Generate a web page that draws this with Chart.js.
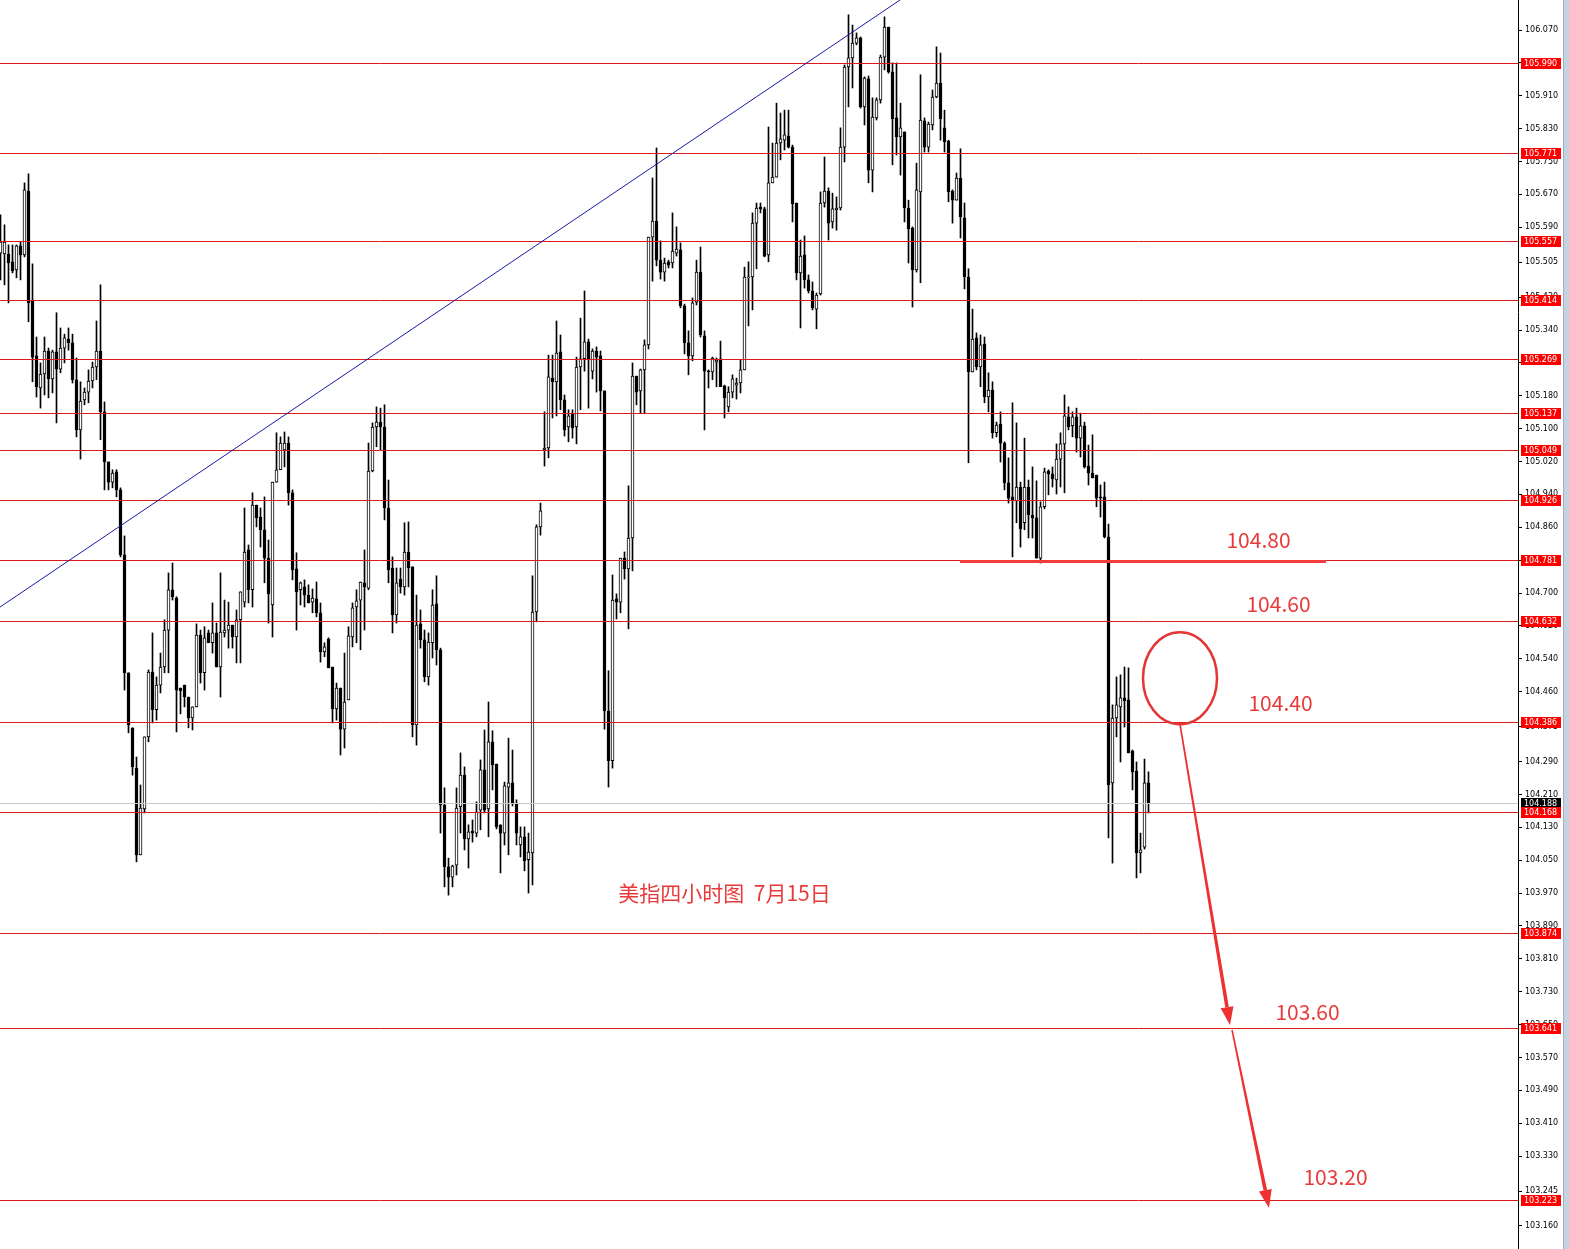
<!DOCTYPE html>
<html>
<head>
<meta charset="utf-8">
<script src="https://cdn.jsdelivr.net/npm/chart.js@4.4.0/dist/chart.umd.min.js"></script>
<style>
  html, body { margin: 0; padding: 0; background: #fff; overflow: hidden; }
</style>
</head>
<body>
<canvas id="myChart" width="1569" height="1249"></canvas>
<script>
// 4h candles, oldest first
const opens = [
  105.527,105.525,105.525,105.506,105.486,105.545,105.523,105.678,105.411,105.277,
  105.199,105.233,105.289,105.221,105.287,105.245,105.296,105.318,105.309,105.219,
  105.097,105.170,105.189,105.216,105.250,105.289,105.141,105.019,104.970,104.995,
  104.951,104.793,104.506,104.372,104.274,104.063,104.175,104.350,104.508,104.416,
  104.476,104.520,104.610,104.708,104.688,104.469,104.476,104.447,104.396,104.423,
  104.598,104.506,104.603,104.579,104.603,104.520,104.603,104.610,104.622,104.593,
  104.635,104.678,104.805,104.708,104.914,104.885,104.854,104.785,104.671,104.970,
  105.000,105.048,105.065,104.944,104.759,104.708,104.715,104.695,104.678,104.686,
  104.652,104.557,104.588,104.520,104.418,104.469,104.369,104.440,104.593,104.666,
  104.683,104.725,104.712,104.997,105.104,105.116,105.104,104.907,104.761,104.647,
  104.734,104.715,104.800,104.764,104.379,104.625,104.586,104.496,104.579,104.674,
  104.562,104.184,104.034,104.009,104.038,104.180,104.257,104.102,104.121,104.116,
  104.172,104.270,104.175,104.338,104.284,104.136,104.116,104.228,104.238,104.187,
  104.087,104.107,104.051,104.068,104.654,104.861,105.048,105.053,105.223,105.214,
  105.287,105.170,105.104,105.136,105.104,105.250,105.270,105.311,105.240,105.289,
  105.277,105.192,104.413,104.292,104.686,104.678,104.785,104.759,104.834,105.228,
  105.192,105.243,105.304,105.566,105.605,105.510,105.481,105.506,105.503,105.527,
  105.535,105.399,105.309,105.277,105.408,105.481,105.326,105.240,105.238,105.262,
  105.270,105.204,105.153,105.189,105.206,105.211,105.243,105.467,105.469,105.600,
  105.639,105.635,105.523,105.698,105.712,105.795,105.802,105.812,105.785,105.649,
  105.479,105.523,105.462,105.435,105.391,105.428,105.649,105.678,105.603,105.632,
  105.637,105.785,105.980,106.002,106.038,106.051,105.883,105.951,105.729,105.856,
  105.900,106.004,106.077,105.968,105.856,105.810,105.822,105.637,105.588,105.486,
  105.676,105.849,105.785,105.839,105.907,105.941,105.832,105.800,105.678,105.656,
  105.710,105.613,105.469,105.238,105.321,105.250,105.306,105.177,105.194,105.090,
  105.111,105.065,104.968,104.934,104.924,104.958,104.871,104.958,104.890,104.883,
  104.785,104.910,104.997,104.990,104.975,105.026,105.063,105.129,105.107,105.129,
  105.077,105.107,105.009,104.992,104.987,104.934,104.934,104.837,104.238,104.396,
  104.423,104.445,104.440,104.316,104.267,104.068,104.082,104.238
];
const highs = [
  105.620,105.596,105.547,105.547,105.547,105.554,105.698,105.720,105.501,105.323,
  105.260,105.323,105.296,105.291,105.382,105.345,105.330,105.345,105.330,105.272,
  105.214,105.199,105.243,105.262,105.362,105.450,105.165,105.019,105.000,105.000,
  104.956,104.839,104.506,104.372,104.301,104.233,104.350,104.513,104.603,104.496,
  104.554,104.635,104.749,104.773,104.691,104.469,104.476,104.447,104.423,104.625,
  104.610,104.618,104.610,104.676,104.627,104.749,104.683,104.678,104.622,104.659,
  104.703,104.907,104.817,104.944,104.914,104.907,104.934,104.829,104.970,105.090,
  105.080,105.092,105.080,104.951,104.798,104.727,104.732,104.720,104.710,104.727,
  104.676,104.579,104.591,104.520,104.481,104.469,104.554,104.618,104.676,104.708,
  104.727,104.805,105.065,105.114,105.153,105.150,105.158,104.975,104.788,104.761,
  104.761,104.871,104.873,104.764,104.695,104.659,104.610,104.603,104.708,104.742,
  104.566,104.226,104.055,104.038,104.226,104.311,104.277,104.136,104.148,104.192,
  104.294,104.367,104.435,104.365,104.284,104.136,104.240,104.347,104.318,104.197,
  104.131,104.131,104.116,104.742,104.866,104.919,105.141,105.279,105.279,105.362,
  105.328,105.182,105.146,105.146,105.274,105.369,105.435,105.318,105.294,105.299,
  105.289,105.192,104.511,104.744,104.698,104.785,104.800,104.961,105.260,105.228,
  105.245,105.316,105.566,105.710,105.783,105.557,105.515,105.510,105.625,105.591,
  105.552,105.403,105.338,105.418,105.510,105.542,105.338,105.243,105.274,105.272,
  105.313,105.206,105.202,105.231,105.223,105.267,105.493,105.506,105.625,105.649,
  105.649,105.639,105.834,105.795,105.892,105.868,105.875,105.875,105.790,105.649,
  105.559,105.569,105.474,105.457,105.430,105.676,105.761,105.686,105.673,105.664,
  105.832,105.985,106.107,106.082,106.063,106.053,105.956,105.958,105.905,105.905,
  106.009,106.102,106.077,105.990,105.990,105.892,105.822,105.656,105.591,105.746,
  105.961,105.856,105.846,105.924,106.029,106.014,105.875,105.802,105.681,105.722,
  105.781,105.649,105.489,105.391,105.333,105.328,105.323,105.236,105.214,105.116,
  105.141,105.068,105.029,105.163,105.114,104.970,105.077,104.975,105.007,104.973,
  104.922,105.004,105.000,105.007,105.063,105.090,105.182,105.153,105.141,105.150,
  105.138,105.116,105.060,105.085,104.987,104.963,104.970,104.868,104.428,104.496,
  104.501,104.520,104.518,104.318,104.289,104.116,104.296,104.265
];
const lows = [
  105.462,105.450,105.406,105.479,105.467,105.462,105.518,105.360,105.214,105.177,
  105.150,105.182,105.175,105.187,105.114,105.236,105.260,105.291,105.211,105.080,
  105.026,105.158,105.163,105.199,105.219,105.073,104.951,104.951,104.956,104.934,
  104.788,104.464,104.360,104.257,104.046,104.063,104.165,104.338,104.384,104.391,
  104.457,104.506,104.506,104.683,104.362,104.406,104.423,104.372,104.367,104.423,
  104.481,104.464,104.579,104.554,104.520,104.447,104.593,104.566,104.566,104.530,
  104.530,104.666,104.676,104.666,104.861,104.812,104.725,104.627,104.593,104.970,
  105.000,105.007,104.914,104.732,104.610,104.671,104.666,104.676,104.652,104.642,
  104.532,104.545,104.518,104.384,104.391,104.306,104.323,104.440,104.569,104.579,
  104.562,104.610,104.708,104.995,105.056,105.048,104.878,104.725,104.603,104.627,
  104.700,104.695,104.715,104.350,104.330,104.566,104.484,104.476,104.542,104.525,
  104.116,103.985,103.965,103.985,104.014,104.116,104.075,104.031,104.094,104.107,
  104.124,104.165,104.107,104.221,104.126,104.019,104.087,104.063,104.182,104.087,
  104.058,104.024,103.970,103.990,104.630,104.841,105.009,105.029,105.126,105.131,
  105.146,105.082,105.068,105.077,105.063,105.146,105.240,105.150,105.221,105.189,
  105.143,104.369,104.228,104.274,104.637,104.652,104.734,104.613,104.754,105.158,
  105.138,105.138,105.294,105.459,105.496,105.464,105.459,105.491,105.491,105.520,
  105.394,105.282,105.231,105.265,105.401,105.323,105.097,105.199,105.219,105.202,
  105.202,105.126,105.141,105.175,105.172,105.187,105.243,105.350,105.389,105.489,
  105.625,105.518,105.506,105.698,105.712,105.754,105.778,105.783,105.603,105.462,
  105.345,105.442,105.430,105.389,105.343,105.425,105.639,105.559,105.588,105.583,
  105.632,105.749,105.883,105.929,106.034,105.880,105.839,105.698,105.676,105.851,
  105.892,105.973,105.965,105.742,105.766,105.717,105.603,105.503,105.396,105.481,
  105.455,105.773,105.773,105.827,105.905,105.802,105.773,105.652,105.600,105.656,
  105.564,105.440,105.017,105.238,105.243,105.202,105.163,105.141,105.077,105.080,
  105.019,104.951,104.919,104.788,104.871,104.812,104.854,104.834,104.834,104.785,
  104.773,104.905,104.939,104.958,104.941,104.958,104.944,105.097,105.080,105.043,
  105.031,105.004,104.963,104.980,104.910,104.885,104.834,104.104,104.043,104.350,
  104.289,104.374,104.311,104.221,104.007,104.019,104.077,104.165
];
const closes = [
  105.554,105.554,105.503,105.484,105.545,105.523,105.681,105.406,105.274,105.202,
  105.233,105.289,105.221,105.287,105.245,105.296,105.321,105.309,105.219,105.097,
  105.167,105.189,105.216,105.250,105.289,105.141,105.019,104.970,104.992,104.951,
  104.793,104.506,104.379,104.277,104.063,104.177,104.350,104.508,104.416,104.476,
  104.520,104.610,104.708,104.691,104.464,104.462,104.447,104.396,104.423,104.598,
  104.506,104.591,104.579,104.603,104.520,104.605,104.610,104.622,104.593,104.635,
  104.703,104.800,104.708,104.914,104.883,104.854,104.785,104.698,104.970,105.000,
  105.065,105.065,104.944,104.756,104.703,104.725,104.695,104.676,104.688,104.652,
  104.557,104.569,104.518,104.418,104.469,104.369,104.435,104.596,104.664,104.681,
  104.727,104.715,104.997,105.104,105.116,105.104,104.907,104.756,104.647,104.725,
  104.715,104.800,104.761,104.379,104.622,104.586,104.496,104.581,104.671,104.562,
  104.184,104.034,104.009,104.036,104.177,104.257,104.102,104.119,104.116,104.167,
  104.270,104.172,104.338,104.282,104.131,104.116,104.231,104.238,104.187,104.116,
  104.107,104.048,104.070,104.654,104.861,104.900,105.053,105.226,105.214,105.284,
  105.170,105.097,105.131,105.102,105.250,105.270,105.311,105.270,105.289,105.274,
  105.192,104.413,104.292,104.683,104.678,104.785,104.759,104.834,105.228,105.189,
  105.243,105.304,105.566,105.605,105.510,105.481,105.503,105.498,105.532,105.537,
  105.399,105.309,105.277,105.406,105.481,105.328,105.240,105.238,105.272,105.267,
  105.202,105.175,105.189,105.221,105.211,105.243,105.469,105.469,105.600,105.637,
  105.635,105.520,105.698,105.712,105.795,105.805,105.815,105.785,105.647,105.479,
  105.520,105.462,105.435,105.394,105.425,105.649,105.678,105.600,105.635,105.637,
  105.785,105.980,106.002,106.038,106.051,105.883,105.953,105.729,105.858,105.900,
  106.004,106.077,105.968,105.854,105.810,105.832,105.637,105.586,105.486,105.681,
  105.851,105.785,105.841,105.907,105.941,105.854,105.798,105.676,105.656,105.710,
  105.615,105.469,105.238,105.318,105.250,105.304,105.177,105.194,105.090,105.109,
  105.065,104.968,104.931,104.924,104.958,104.856,104.958,104.890,104.883,104.785,
  104.910,104.995,104.990,104.978,105.026,105.063,105.131,105.104,105.129,105.077,
  105.107,105.007,104.992,104.980,104.931,104.931,104.837,104.233,104.396,104.428,
  104.445,104.438,104.311,104.265,104.068,104.075,104.238,104.188
];

// right-hand price scale
const yTicks = [
  106.150,106.070,105.990,105.910,105.830,105.750,105.670,105.590,105.505,105.420,
  105.340,105.260,105.180,105.100,105.020,104.940,104.860,104.780,104.700,104.620,
  104.540,104.460,104.375,104.290,104.210,104.130,104.050,103.970,103.890,103.810,
  103.730,103.650,103.570,103.490,103.410,103.330,103.245,103.160
];
// horizontal levels drawn in red
const levels = [105.990, 105.771, 105.557, 105.414, 105.269, 105.137, 105.049, 104.926,
                104.781, 104.632, 104.386, 104.168, 103.874, 103.641, 103.223];
const bidPrice = 104.188;

// hand drawn objects, anchored on (bar index, price)
const trend = { i1: -0.125, p1: 104.666, i2: 224.875, p2: 106.143 };
const support = { i1: 239.875, i2: 331.375, p: 104.777 };
const ring = { i: 294.875, p: 104.493 };
const arrows = [
  { i1: 294.875, p1: 104.381, i2: 307.375, p2: 103.649 },
  { i1: 307.875, p1: 103.637, i2: 317.125, p2: 103.204 }
];
const notes = [
  { t: '104.80', i: 314.5, p: 104.829 },
  { t: '104.60', i: 319.5, p: 104.673 },
  { t: '104.40', i: 320.0, p: 104.433 },
  { t: '103.60', i: 326.75, p: 103.681 },
  { t: '103.20', i: 333.75, p: 103.279 },
  { t: '美指四小时图  7月15日', i: 181.0, p: 103.970 }
];

const RED_LINE = '#dc1a1a';
const NOTE_RED = '#e83a3a';
const AXIS_FONT = 'DejaVu Sans';

function drawArrow(ctx, x1, y1, x2, y2) {
  const ang = Math.atan2(y2 - y1, x2 - x1);
  const headLen = 18, headW = 6.5;
  const bx = x2 - Math.cos(ang) * headLen, by = y2 - Math.sin(ang) * headLen;
  const nx = -Math.sin(ang), ny = Math.cos(ang);
  const w1 = 0.8, w2 = 1.8;
  ctx.beginPath();
  ctx.moveTo(x1 + nx * w1, y1 + ny * w1);
  ctx.lineTo(bx + nx * w2, by + ny * w2);
  ctx.lineTo(bx - nx * w2, by - ny * w2);
  ctx.lineTo(x1 - nx * w1, y1 - ny * w1);
  ctx.closePath();
  ctx.fill();
  ctx.beginPath();
  ctx.moveTo(x2, y2);
  ctx.lineTo(bx + nx * headW, by + ny * headW);
  ctx.lineTo(bx - nx * headW, by - ny * headW);
  ctx.closePath();
  ctx.fill();
}

const overlay = {
  id: 'overlay',
  afterDatasetsDraw(chart) {
    const { ctx, chartArea: a } = chart;
    const xs = chart.scales.x, ys = chart.scales.y;
    ctx.save();
    ctx.beginPath();
    ctx.rect(a.left, a.top, a.right - a.left, a.bottom - a.top);
    ctx.clip();
    ctx.lineWidth = 1;
    // bid line
    let py = Math.round(ys.getPixelForValue(bidPrice)) + 0.5;
    ctx.strokeStyle = '#c8c8c8';
    ctx.beginPath(); ctx.moveTo(a.left, py); ctx.lineTo(a.right, py); ctx.stroke();
    ctx.strokeStyle = RED_LINE;
    levels.forEach(v => {
      py = Math.round(ys.getPixelForValue(v)) + 0.5;
      ctx.beginPath(); ctx.moveTo(a.left, py); ctx.lineTo(a.right, py); ctx.stroke();
    });
    // trend line
    ctx.strokeStyle = '#1a1aa6';
    ctx.beginPath();
    ctx.moveTo(xs.getPixelForValue(trend.i1), ys.getPixelForValue(trend.p1));
    ctx.lineTo(xs.getPixelForValue(trend.i2), ys.getPixelForValue(trend.p2));
    ctx.stroke();
    // thick support line
    ctx.strokeStyle = '#f23b3b';
    ctx.lineWidth = 3;
    py = ys.getPixelForValue(support.p);
    ctx.beginPath();
    ctx.moveTo(xs.getPixelForValue(support.i1), py);
    ctx.lineTo(xs.getPixelForValue(support.i2), py);
    ctx.stroke();
    ctx.restore();
  },
  afterDraw(chart) {
    const { ctx, chartArea: a } = chart;
    const xs = chart.scales.x, ys = chart.scales.y;
    ctx.save();
    // price tags on the axis
    ctx.font = '8px "' + AXIS_FONT + '"';
    ctx.textBaseline = 'middle';
    ctx.textAlign = 'left';
    const tag = (v, bg) => {
      const py = Math.round(ys.getPixelForValue(v));
      ctx.fillStyle = bg;
      ctx.fillRect(a.right + 3, py - 5, 40, 11);
      ctx.fillStyle = '#fff';
      ctx.fillText(v.toFixed(3), a.right + 6, py + 1);
    };
    tag(bidPrice, '#000');
    levels.forEach(v => tag(v, '#ff0000'));
    // window edge
    ctx.fillStyle = '#c6d2e0';
    ctx.fillRect(chart.width - 6, 0, 6, chart.height);
    ctx.fillStyle = '#9fb0c6';
    ctx.fillRect(chart.width - 6, 0, 1, chart.height);

    // circle
    ctx.strokeStyle = '#e53535';
    ctx.lineWidth = 2.5;
    ctx.beginPath();
    ctx.ellipse(xs.getPixelForValue(ring.i), ys.getPixelForValue(ring.p), 37, 46, 0, 0, Math.PI * 2);
    ctx.stroke();
    // arrows
    ctx.fillStyle = '#ee3030';
    arrows.forEach(r => drawArrow(ctx,
      xs.getPixelForValue(r.i1), ys.getPixelForValue(r.p1),
      xs.getPixelForValue(r.i2), ys.getPixelForValue(r.p2)));
    // notes
    ctx.font = '21px "Noto Sans CJK SC"';
    ctx.textAlign = 'center';
    ctx.textBaseline = 'middle';
    ctx.fillStyle = NOTE_RED;
    notes.forEach(n => ctx.fillText(n.t, xs.getPixelForValue(n.i), ys.getPixelForValue(n.p)));
    ctx.restore();
  }
};

const idx = opens.map((_, i) => i);
const ctx = document.getElementById('myChart').getContext('2d');
const myChart = new Chart(ctx, {
  type: 'bar',
  data: {
    datasets: [{
      label: 'wick',
      data: idx.map(i => ({ x: i, y: [lows[i], highs[i]] })),
      backgroundColor: '#000',
      borderWidth: 0,
      barThickness: 1,
      grouped: false,
      order: 2
    }, {
      label: 'body',
      data: idx.map(i => ({ x: i, y: [opens[i], closes[i]] })),
      backgroundColor: idx.map(i => closes[i] >= opens[i] ? '#fff' : '#000'),
      borderColor: '#000',
      borderWidth: 1,
      borderSkipped: false,
      barThickness: 3,
      minBarLength: 1,
      grouped: false,
      order: 1
    }]
  },
  options: {
    responsive: false,
    animation: false,
    events: [],
    layout: { padding: 0 },
    plugins: { legend: { display: false }, tooltip: { enabled: false } },
    scales: {
      x: {
        type: 'linear',
        display: false,
        offset: false,
        min: -0.125,
        max: 379.375
      },
      y: {
        position: 'right',
        min: 103.104,
        max: 106.143,
        afterBuildTicks: s => { s.ticks = yTicks.map(v => ({ value: v })); },
        afterFit: s => { s.width = 51; s.paddingTop = 0; s.paddingBottom = 0; },
        ticks: {
          autoSkip: false,
          padding: 3,
          color: '#000',
          font: { family: AXIS_FONT, size: 8 },
          callback: v => Number(v).toFixed(3)
        },
        grid: { drawOnChartArea: false, drawTicks: true, tickLength: 4, color: '#000' },
        border: { display: true, color: '#000' }
      }
    }
  },
  plugins: [overlay]
});
</script>
</body>
</html>
